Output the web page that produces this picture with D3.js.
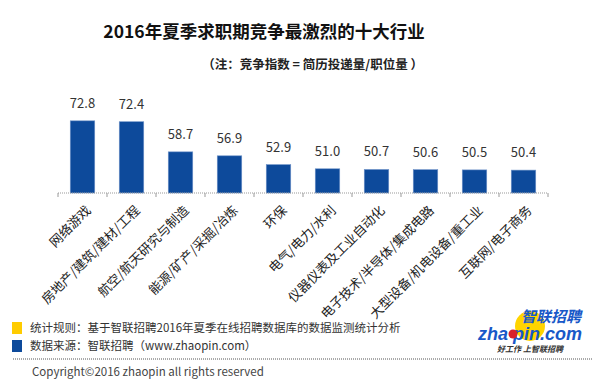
<!DOCTYPE html>
<html>
<head>
<meta charset="utf-8">
<script src="https://cdn.jsdelivr.net/npm/d3@7/dist/d3.min.js"></script>
<style>
  html, body { margin: 0; padding: 0; background: #fff; }
  svg { display: block; font-family: "Noto Sans CJK SC", "Noto Sans", sans-serif; }
</style>
</head>
<body>
<div id="chart"></div>
<script>
// Industries and competition index values
const categories = [
  '网络游戏',
  '房地产/建筑/建材/工程',
  '航空/航天研究与制造',
  '能源/矿产/采掘/冶炼',
  '环保',
  '电气/电力/水利',
  '仪器仪表及工业自动化',
  '电子技术/半导体/集成电路',
  '大型设备/机电设备/重工业',
  '互联网/电子商务'
];
const values = [72.8, 72.4, 58.7, 56.9, 52.9, 51.0, 50.7, 50.6, 50.5, 50.4];
const yDomain = [40, 80];

const legendItems = [
  { text: '统计规则：基于智联招聘2016年夏季在线招聘数据库的数据监测统计分析', color: '#ffcc00' },
  { text: '数据来源：智联招聘（www.zhaopin.com）', color: '#0d4a9b' }
];

const W = 600, H = 388;
const margin = { top: 105, right: 52, bottom: 195, left: 58 };
const width = W - margin.left - margin.right;
const height = H - margin.top - margin.bottom;

const svg = d3.select('#chart').append('svg')
  .attr('width', W)
  .attr('height', H);

// Title
svg.append('text')
  .attr('x', 264)
  .attr('y', 38)
  .attr('text-anchor', 'middle')
  .style('font-size', '17.5px')
  .style('font-weight', '700')
  .style('fill', '#111')
  .text('2016年夏季求职期竞争最激烈的十大行业');

svg.append('text')
  .attr('x', 423)
  .attr('y', 69)
  .attr('text-anchor', 'end')
  .style('font-size', '12.5px')
  .style('font-weight', '700')
  .style('fill', '#222')
  .text('（注：竞争指数 = 简历投递量/职位量 ）');

const g = svg.append('g')
  .attr('transform', `translate(${margin.left},${margin.top})`);

const x = d3.scaleBand()
  .domain(categories)
  .range([0, width])
  .paddingInner(0.5)
  .paddingOuter(0.25);

const y = d3.scaleLinear()
  .domain(yDomain)
  .range([height, 0]);

// Bars
g.selectAll('.bar')
  .data(values)
  .enter()
  .append('rect')
  .attr('class', 'bar')
  .attr('x', (d, i) => x(categories[i]))
  .attr('y', d => y(d))
  .attr('width', x.bandwidth())
  .attr('height', d => height - y(d))
  .style('fill', '#0d4a9b')
  .style('stroke', '#6f93c8')
  .style('stroke-width', 0.6);

// Value labels
g.selectAll('.val')
  .data(values)
  .enter()
  .append('text')
  .attr('x', (d, i) => x(categories[i]) + x.bandwidth() / 2)
  .attr('y', d => y(d) - 13)
  .attr('text-anchor', 'middle')
  .style('font-size', '13px')
  .style('fill', '#333')
  .text(d => d.toFixed(1));

// X axis with ticks at band boundaries
const tickPos = d3.range(categories.length + 1).map(i => i * width / categories.length);
const axis = g.append('g').attr('transform', `translate(0,${height})`);
axis.append('line')
  .attr('x1', 0).attr('x2', width)
  .attr('y1', 0).attr('y2', 0)
  .style('stroke', '#999')
  .style('stroke-width', 1)
  .style('stroke-dasharray', '1,1');
axis.selectAll('.tk')
  .data(tickPos)
  .enter()
  .append('line')
  .attr('x1', d => d).attr('x2', d => d)
  .attr('y1', 0).attr('y2', 4)
  .style('stroke', '#999');

// Rotated category labels
g.selectAll('.cat')
  .data(categories)
  .enter()
  .append('text')
  .attr('transform', d => `translate(${x(d) + x.bandwidth() / 2 + 6},${height + 15}) rotate(-45)`)
  .attr('text-anchor', 'end')
  .attr('dy', '0.35em')
  .style('font-size', '13px')
  .style('fill', '#222')
  .text(d => d);

// Legend notes
const leg = svg.append('g').attr('transform', 'translate(12,322)');
legendItems.forEach((item, i) => {
  leg.append('rect')
    .attr('x', 0).attr('y', i * 18)
    .attr('width', 10).attr('height', 12)
    .style('fill', item.color);
  leg.append('text')
    .attr('x', 18).attr('y', i * 18 + 6)
    .attr('dy', '0.35em')
    .style('font-size', '11.5px')
    .style('fill', '#333')
    .text(item.text);
});

// Dotted separator
svg.append('line')
  .attr('x1', 13).attr('x2', 592)
  .attr('y1', 359).attr('y2', 359)
  .style('stroke', '#555')
  .style('stroke-dasharray', '1,1');

svg.append('text')
  .attr('x', 32).attr('y', 372)
  .attr('dy', '0.35em')
  .style('font-size', '11.5px')
  .style('fill', '#444')
  .text('Copyright©2016 zhaopin all rights reserved');

// zhaopin logo
const logo = svg.append('g');
logo.append('circle')
  .attr('cx', 530).attr('cy', 326).attr('r', 15)
  .style('fill', '#ffd400');
logo.append('text')
  .attr('x', 581).attr('y', 322)
  .attr('text-anchor', 'end')
  .style('font-size', '15px')
  .style('font-weight', '700')
  .style('font-style', 'italic')
  .style('fill', '#1858c8')
  .text('智联招聘');
logo.append('text')
  .attr('x', 582).attr('y', 340)
  .attr('text-anchor', 'end')
  .style('font-family', 'Arial, "Liberation Sans", sans-serif')
  .style('font-size', '18px')
  .style('font-weight', '700')
  .style('font-style', 'italic')
  .style('fill', '#1858c8')
  .text('zha pin.com');
logo.append('circle')
  .attr('cx', 513).attr('cy', 334).attr('r', 4.5)
  .style('fill', '#d8202a');
logo.append('text')
  .attr('x', 530).attr('y', 352)
  .attr('text-anchor', 'middle')
  .style('font-size', '8px')
  .style('font-weight', '700')
  .style('font-style', 'italic')
  .style('fill', '#333')
  .text('好工作  上智联招聘');
</script>
</body>
</html>
